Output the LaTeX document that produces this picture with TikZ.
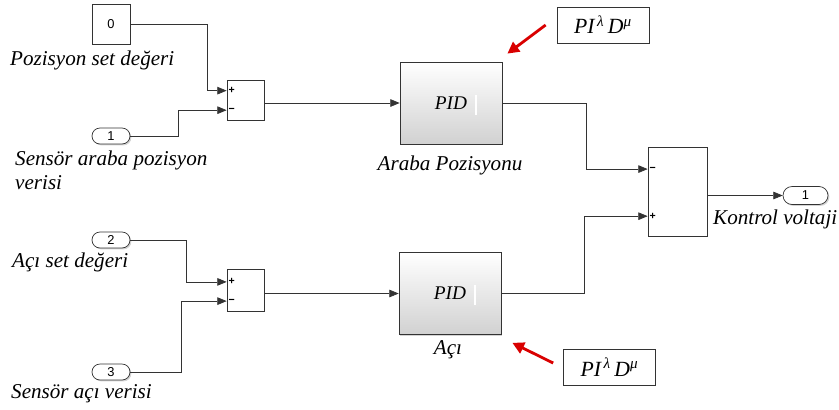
\documentclass[tikz,border=0pt]{standalone}
\usepackage{fontspec}
\setmainfont{Liberation Serif}
\setsansfont{Liberation Sans}
\usetikzlibrary{arrows.meta,calc,shadows,shapes.misc,positioning}

\tikzset{
  blk/.style={draw=black!80, line width=0.6pt, fill=white,
    drop shadow={shadow xshift=1.2pt, shadow yshift=-1.2pt, opacity=0.35}},
  port/.style={blk, rounded rectangle, minimum width=1.14cm, minimum height=0.48cm,
    inner sep=0pt, font=\sffamily\fontsize{11}{12}\selectfont},
  sumblk/.style={blk, minimum width=1.11cm, minimum height=1.2cm, inner sep=0pt},
  pidblk/.style={blk, top color=white, bottom color=black!18,
    minimum width=3.06cm, minimum height=2.46cm, inner sep=0pt,
    font=\itshape\fontsize{16.5}{18}\selectfont},
  sgn/.style={font=\sffamily\bfseries\fontsize{9}{10}\selectfont, inner sep=1.5pt},
  lbl/.style={font=\itshape\fontsize{18}{20}\selectfont, inner sep=0pt},
  sig/.style={draw=black!80, line width=0.6pt, -{Triangle[length=8pt,width=6.5pt]}},
  note/.style={draw=black!80, line width=0.6pt, fill=white, minimum width=2.76cm,
    minimum height=1.08cm, font=\itshape\fontsize{18.5}{20}\selectfont},
  redarr/.style={draw=red!85!black, line width=2.4pt, -{Triangle[length=10pt,width=10pt]}},
}

\begin{document}
\begin{tikzpicture}[x=0.03cm, y=-0.03cm]
  \useasboundingbox (0,0) rectangle (839,409);

  % girisler ve sabit
  \node[blk, minimum width=1.14cm, minimum height=1.2cm,
        font=\sffamily\fontsize{11}{12}\selectfont] (c0) at (111,24) {0};
  \node[port] (in1) at (111,136) {1};
  \node[port] (in2) at (111,240) {2};
  \node[port] (in3) at (111,372) {3};

  % toplama bloklari
  \node[sumblk] (sumA) at (245.5,100) {};
  \node[sumblk, minimum height=1.26cm] (sumB) at (245.5,290) {};
  \node[sumblk, minimum width=1.77cm, minimum height=2.67cm] (sumC) at (677.5,191.5) {};

  \coordinate (sA1) at ($(sumA.north west)!0.27!(sumA.south west)$);
  \coordinate (sA2) at ($(sumA.north west)!0.75!(sumA.south west)$);
  \coordinate (sB1) at ($(sumB.north west)!0.31!(sumB.south west)$);
  \coordinate (sB2) at ($(sumB.north west)!0.76!(sumB.south west)$);
  \coordinate (sC1) at ($(sumC.north west)!0.25!(sumC.south west)$);
  \coordinate (sC2) at ($(sumC.north west)!0.775!(sumC.south west)$);

  \node[sgn, anchor=west] at (sA1) {+};
  \node[sgn, anchor=west] at (sA2) {\textminus};
  \node[sgn, anchor=west] at (sB1) {+};
  \node[sgn, anchor=west] at (sB2) {\textminus};
  \node[sgn, anchor=west] at (sC1) {\textminus};
  \node[sgn, anchor=west] at (sC2) {+};

  % PID bloklari
  \node[pidblk] (pidA) at (451,103) {PID};
  \node[pidblk] (pidB) at (450,293.5) {PID};
  \draw[white, line width=1pt] ([xshift=0.75cm,yshift=0.25cm]pidA.center) -- ++(0,20);
  \draw[white, line width=1pt] ([xshift=0.75cm,yshift=0.25cm]pidB.center) -- ++(0,20);

  % cikis
  \node[port, minimum width=1.35cm, minimum height=0.54cm] (outp) at (805.5,195.5) {1};

  % baglantilar
  \draw[sig] (c0.east) -| ([xshift=-0.57cm]sA1) -- (sA1);
  \draw[sig] (in1.east) -| ([xshift=-1.44cm]sA2) -- (sA2);
  \draw[sig] (in2.east) -| ([xshift=-1.2cm]sB1) -- (sB1);
  \draw[sig] (in3.east) -| ([xshift=-1.35cm]sB2) -- (sB2);
  \draw[sig] (sumA.east |- pidA.west) -- (pidA.west);
  \draw[sig] (sumB.east |- pidB.west) -- (pidB.west);
  \draw[sig] (pidA.east) -| ([xshift=-1.83cm]sC1) -- (sC1);
  \draw[sig] (pidB.east) -| ([xshift=-1.89cm]sC2) -- (sC2);
  \draw[sig] (sumC.east |- outp.west) -- (outp.west);

  % etiketler
  \node[lbl, anchor=west] (tPoz) at (10,60) {Pozisyon set değeri};
  \node[lbl, anchor=north west, align=left] (tSens) at (15,151) {Sensör araba pozisyon\\[0.5pt]verisi};
  \node[lbl, anchor=west] (tAciSet) at (12,262) {Açı set değeri};
  \node[lbl, anchor=west] (tSensAci) at (11,394) {Sensör açı verisi};
  \node[lbl] (tAraba) at (450,165) {Araba Pozisyonu};
  \node[lbl] (tAci) at (448,350) {Açı};
  \node[lbl, anchor=west] (tVolt) at (713,219) {Kontrol voltaji};

  % kesirli PID notlari
  \node[note] (annA) at (603,25) {PI\textsuperscript{\,λ}\,D\textsuperscript{μ}};
  \node[note] (annB) at (609.5,367) {PI\textsuperscript{\,λ}\,D\textsuperscript{μ}};
  \draw[redarr] ([xshift=-0.33cm]annA.west) -- ([xshift=0.15cm,yshift=0.24cm]pidA.north east);
  \draw[redarr] ([xshift=-0.3cm,yshift=0.12cm]annB.west) -- ([xshift=0.33cm,yshift=-0.24cm]pidB.south east);

\end{tikzpicture}
\end{document}
